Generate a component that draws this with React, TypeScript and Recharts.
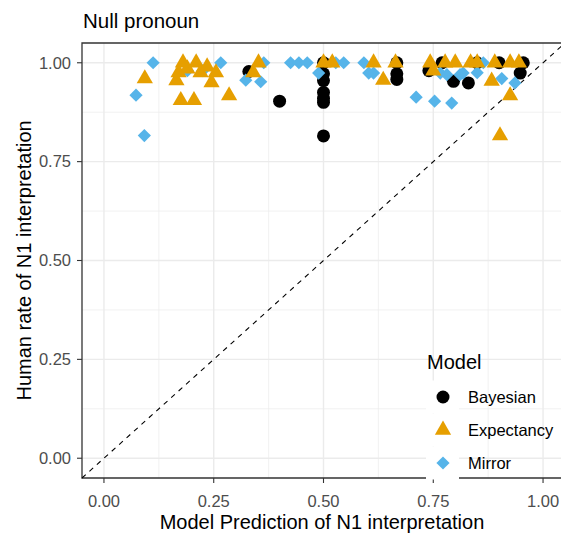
import React from 'react';
import {
  ScatterChart,
  Scatter,
  XAxis,
  YAxis,
  CartesianGrid,
  ReferenceLine,
  ReferenceArea,
  Legend,
} from 'recharts';

const FONT = '"Liberation Sans", Arial, Helvetica, sans-serif';

// axis ticks (ggplot breaks) and minor grid positions
const majorTicks = [0, 0.25, 0.5, 0.75, 1];
const minorTicks = [0.125, 0.375, 0.625, 0.875];
const domain: [number, number] = [-0.05, 1.05];

// [model prediction, human rate]
const bayesian: [number, number][] = [
  [0.33, 0.978], [0.4, 0.903], [0.5, 1.0], [0.5, 0.972], [0.5, 0.955],
  [0.5, 0.925], [0.5, 0.91], [0.5, 0.9], [0.5, 0.815], [0.667, 1.0],
  [0.667, 0.972], [0.667, 0.958], [0.74, 0.98], [0.77, 1.0], [0.796, 0.953],
  [0.83, 0.949], [0.85, 1.0], [0.9, 1.0], [0.948, 0.974], [0.955, 1.0],
];

const mirror: [number, number][] = [
  [0.073, 0.918], [0.092, 0.816], [0.112, 1.0], [0.19, 0.98], [0.225, 0.98],
  [0.266, 1.0], [0.323, 0.956], [0.357, 0.952], [0.364, 1.0], [0.425, 1.0],
  [0.444, 1.0], [0.463, 1.0], [0.489, 0.974], [0.528, 1.0], [0.546, 1.0],
  [0.592, 1.0], [0.603, 0.974], [0.614, 0.974], [0.711, 0.913], [0.753, 0.903],
  [0.766, 0.974], [0.781, 0.97], [0.792, 0.898], [0.811, 0.97], [0.818, 0.974],
  [0.85, 0.975], [0.864, 1.0], [0.906, 0.96], [0.936, 0.949],
];

const expectancy: [number, number][] = [
  [0.093, 0.96], [0.165, 0.955], [0.17, 0.975], [0.18, 1.0], [0.19, 0.985],
  [0.21, 1.0], [0.22, 0.975], [0.235, 0.99], [0.245, 0.95], [0.255, 0.975],
  [0.175, 0.905], [0.205, 0.905], [0.285, 0.917], [0.34, 0.975], [0.352, 1.0],
  [0.5, 1.0], [0.52, 1.0], [0.614, 1.0], [0.636, 0.956], [0.664, 1.0],
  [0.743, 1.0], [0.75, 0.98], [0.777, 1.0], [0.8, 1.0], [0.835, 1.0],
  [0.85, 1.0], [0.883, 0.954], [0.89, 1.0], [0.925, 1.0], [0.945, 1.0],
  [0.925, 0.917], [0.902, 0.816],
];

const toData = (pts: [number, number][]) => pts.map(([x, y]) => ({ x, y }));

const COLORS = { Bayesian: '#000000', Expectancy: '#E69F00', Mirror: '#56B4E9' };

const Dot = ({ cx, cy, fill }: any) => <circle cx={cx} cy={cy} r={6.5} fill={fill} />;

const Tri = ({ cx, cy, fill }: any) => {
  const r = 9.4;
  const hw = r * 0.866;
  return (
    <polygon
      points={`${cx},${cy - r} ${cx + hw},${cy + r / 2} ${cx - hw},${cy + r / 2}`}
      fill={fill}
    />
  );
};

const Diamond = ({ cx, cy, fill }: any) => {
  const d = 6.6;
  return (
    <polygon points={`${cx},${cy - d} ${cx + d},${cy} ${cx},${cy + d} ${cx - d},${cy}`} fill={fill} />
  );
};

const legendItems = [
  { name: 'Bayesian', Shape: Dot },
  { name: 'Expectancy', Shape: Tri },
  { name: 'Mirror', Shape: Diamond },
];

const ModelLegend = () => (
  <svg width={140} height={136} style={{ overflow: 'visible' }}>
    <text x={1} y={22.5} fontSize={20} fontFamily={FONT} fill="#000">
      Model
    </text>
    {legendItems.map((it, i) => {
      const cy = 51 + i * 33;
      return (
        <g key={it.name}>
          <rect x={0} y={cy - 16.5} width={33} height={33} fill="#fff" />
          <it.Shape cx={17} cy={cy} fill={(COLORS as any)[it.name]} />
          <text x={42} y={cy + 6} fontSize={16.5} fontFamily={FONT} fill="#000">
            {it.name}
          </text>
        </g>
      );
    })}
  </svg>
);

const fmt = (v: number) => v.toFixed(2);

export default function App() {
  return (
    <div
      style={{
        position: 'fixed',
        left: 0,
        top: 0,
        width: 561,
        height: 536,
        overflow: 'hidden',
        background: '#fff',
      }}
    >
      <div style={{ position: 'relative', width: 580, height: 536 }}>
        <ScatterChart
          width={580}
          height={536}
          margin={{ top: 43, right: 15, bottom: 0, left: 0 }}
          style={{ fontFamily: FONT }}
        >
          <CartesianGrid
            verticalValues={minorTicks}
            horizontalValues={minorTicks}
            stroke="#EBEBEB"
            strokeWidth={0.7}
          />
          <CartesianGrid
            verticalValues={majorTicks}
            horizontalValues={majorTicks}
            stroke="#EBEBEB"
            strokeWidth={1.4}
          />
          <XAxis
            type="number"
            dataKey="x"
            domain={domain}
            ticks={majorTicks}
            allowDataOverflow
            tickFormatter={fmt}
            height={58}
            axisLine={false}
            tickSize={5}
            tickMargin={12}
            tickLine={{ stroke: '#333333', strokeWidth: 1.1 }}
            tick={{ fill: '#4D4D4D', fontSize: 16.5, fontFamily: FONT }}
          />
          <YAxis
            type="number"
            dataKey="y"
            domain={domain}
            ticks={majorTicks}
            allowDataOverflow
            tickFormatter={fmt}
            width={82}
            axisLine={false}
            tickSize={5}
            tickMargin={6}
            tickLine={{ stroke: '#333333', strokeWidth: 1.1 }}
            tick={{ fill: '#4D4D4D', fontSize: 16.5, fontFamily: FONT }}
          />
          <ReferenceLine
            segment={[
              { x: -0.05, y: -0.05 },
              { x: 1.05, y: 1.05 },
            ]}
            stroke="#000"
            strokeWidth={1.1}
            strokeDasharray="5 5"
          />
          <Scatter
            name="Bayesian"
            data={toData(bayesian)}
            fill={COLORS.Bayesian}
            shape={Dot}
            isAnimationActive={false}
          />
          <Scatter
            name="Mirror"
            data={toData(mirror)}
            fill={COLORS.Mirror}
            shape={Diamond}
            isAnimationActive={false}
          />
          <Scatter
            name="Expectancy"
            data={toData(expectancy)}
            fill={COLORS.Expectancy}
            shape={Tri}
            isAnimationActive={false}
          />
          <ReferenceArea
            x1={-0.05}
            x2={1.05}
            y1={-0.05}
            y2={1.05}
            fill="none"
            fillOpacity={0}
            stroke="#333333"
            strokeWidth={1.3}
            ifOverflow="visible"
          />
          <Legend
            layout="vertical"
            align="center"
            verticalAlign="middle"
            wrapperStyle={{ left: 426, top: 346, width: 140, height: 136 }}
            content={() => <ModelLegend />}
          />
        </ScatterChart>
        <svg
          width={580}
          height={536}
          style={{ position: 'absolute', left: 0, top: 0, pointerEvents: 'none' }}
        >
          <text x={83} y={28} fontSize={20.5} fontFamily={FONT} fill="#000">
            Null pronoun
          </text>
          <text x={322} y={529} fontSize={20} fontFamily={FONT} fill="#000" textAnchor="middle">
            Model Prediction of N1 interpretation
          </text>
          <text
            transform="translate(31,260.4) rotate(-90)"
            fontSize={20}
            fontFamily={FONT}
            fill="#000"
            textAnchor="middle"
          >
            Human rate of N1 interpretation
          </text>
        </svg>
      </div>
    </div>
  );
}
